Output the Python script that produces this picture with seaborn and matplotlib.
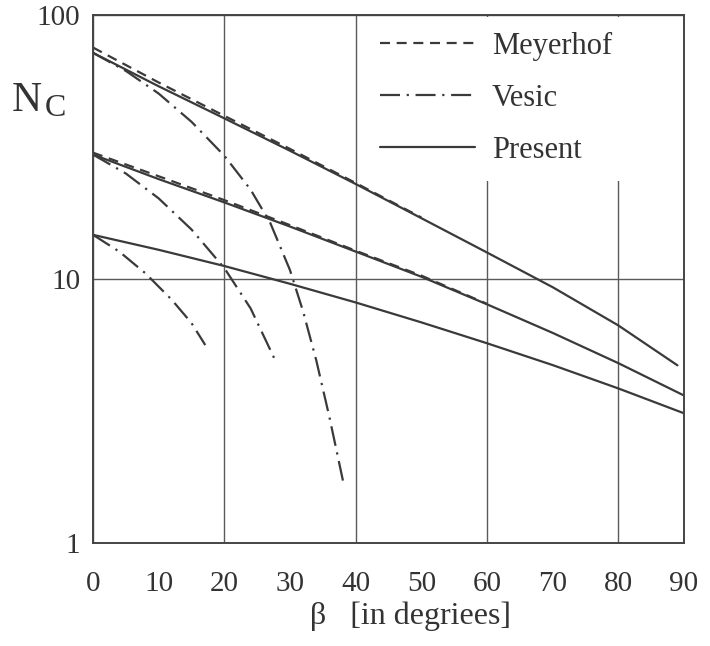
import seaborn as sns
import matplotlib.pyplot as plt
import matplotlib.patches as mpatches
from matplotlib.ticker import FixedLocator, NullLocator, FixedFormatter
import pandas as pd

# Nc versus slope angle beta
beta_present = [0, 10, 20, 30, 40, 50, 60, 70, 80, 90]
beta_present_40 = [0, 10, 20, 30, 40, 50, 60, 70, 80, 89]
present_phi40 = [71.9, 53.7, 40.6, 30.6, 22.9, 17.0, 12.6, 9.31, 6.67, 4.71]
present_phi30 = [29.6, 23.9, 19.5, 15.8, 12.7, 10.2, 8.02, 6.25, 4.80, 3.62]
present_phi20 = [14.7, 12.9, 11.2, 9.59, 8.15, 6.85, 5.71, 4.72, 3.85, 3.10]

beta_meyerhof_40 = [0, 10, 20, 30, 40, 50]
meyerhof_phi40 = [75.3, 55.5, 41.5, 31.1, 23.1, 17.1]
beta_meyerhof_30 = [0, 10, 20, 30, 40, 50, 60]
meyerhof_phi30 = [30.1, 24.5, 19.9, 16.0, 12.8, 10.3, 8.05]

beta_vesic_40 = [0, 5, 10, 15, 20, 24, 27, 30, 32, 34, 36, 38.2]
vesic_phi40 = [71.9, 61.4, 50.4, 39.4, 29.3, 21.8, 16.3, 10.8, 7.53, 4.92, 3.00, 1.66]
beta_vesic_30 = [0, 5, 10, 15, 20, 24, 27.7]
vesic_phi30 = [29.6, 25.1, 20.2, 15.4, 11.0, 7.74, 4.95]
beta_vesic_20 = [0, 4, 8, 12, 15, 17.1]
vesic_phi20 = [14.7, 12.7, 10.5, 8.34, 6.81, 5.62]

methods = ["Meyerhof", "Vesic", "Present"]

# long table for seaborn
curvas = [
    ("Meyerhof", 40, beta_meyerhof_40, meyerhof_phi40),
    ("Meyerhof", 30, beta_meyerhof_30, meyerhof_phi30),
    ("Vesic", 40, beta_vesic_40, vesic_phi40),
    ("Vesic", 30, beta_vesic_30, vesic_phi30),
    ("Vesic", 20, beta_vesic_20, vesic_phi20),
    ("Present", 40, beta_present_40, present_phi40),
    ("Present", 30, beta_present, present_phi30),
    ("Present", 20, beta_present, present_phi20),
]
linhas = []
for metodo, phi, bs, ns in curvas:
    for b, n in zip(bs, ns):
        linhas.append({"beta": b, "Nc": n, "method": metodo, "curve": f"{metodo}{phi}"})
df = pd.DataFrame(linhas)

sns.set_theme(style="white")
plt.rcParams["font.family"] = ["Liberation Serif", "DejaVu Serif"]

cor_linha = "#3a3a3a"
cor_texto = "#333333"
cor_grade = "#5a5a5a"

fig = plt.figure(figsize=(7.1, 6.46), dpi=100)
ax = fig.add_axes([93 / 710, 1 - 543 / 646, 591 / 710, 528 / 646])

sns.lineplot(data=df, x="beta", y="Nc", style="method", units="curve",
             estimator=None, sort=False, style_order=methods,
             dashes={"Meyerhof": (4.5, 3), "Vesic": (9, 3, 1, 3), "Present": ""},
             color=cor_linha, linewidth=1.6, ax=ax, zorder=3)

ax.set_yscale("log")
ax.set_xlim(0, 90)
ax.set_ylim(1, 100)

# ticks and grid
ax.xaxis.set_major_locator(FixedLocator([0, 20, 40, 60, 80]))
ax.xaxis.set_minor_locator(FixedLocator([10, 30, 50, 70, 90]))
ax.xaxis.set_minor_formatter(FixedFormatter(["10", "30", "50", "70", "90"]))
ax.yaxis.set_major_locator(FixedLocator([1, 10, 100]))
ax.yaxis.set_major_formatter(FixedFormatter(["1", "10", "100"]))
ax.yaxis.set_minor_locator(NullLocator())
ax.tick_params(axis="x", which="both", direction="inout", length=11, pad=14.5,
               labelsize=21, colors=cor_texto)
ax.tick_params(axis="x", which="major", width=0)
ax.tick_params(axis="x", which="minor", width=1.2, color=cor_grade)
ax.tick_params(axis="y", which="both", length=0, pad=9, labelsize=21, colors=cor_texto)
ax.grid(True, which="major", color=cor_grade, linewidth=1.0)
ax.grid(False, which="minor")

for s in ax.spines.values():
    s.set_visible(True)
    s.set_color("#444444")
    s.set_linewidth(1.4)
    s.set_zorder(5)

# white area behind the legend
ax.add_patch(mpatches.Rectangle((0.472, 0.686), 0.526, 0.31, transform=ax.transAxes,
                                facecolor="white", edgecolor="none", zorder=1.8))

leg = ax.legend(loc="upper left", bbox_to_anchor=(0.486, 0.968), frameon=False,
                fontsize=22, handlelength=3.1, handletextpad=0.55, labelspacing=0.75,
                borderpad=0, borderaxespad=0)
for t in leg.get_texts():
    t.set_color(cor_texto)
for l in leg.get_lines():
    l.set_color(cor_linha)
    l.set_linewidth(1.6)

ax.set_xlabel("β   [in degriees]", fontsize=23, color=cor_texto)
ax.xaxis.set_label_coords((411 - 93) / 591, -0.139)
ax.xaxis.label.set_va("center")
ax.set_ylabel("")

fig.text(12 / 710, 1 - 101 / 646, "N", fontsize=30, color=cor_texto, va="center", ha="left")
fig.text(45 / 710, 1 - 109 / 646, "C", fontsize=23, color=cor_texto, va="center", ha="left")

plt.savefig("out.png", dpi=100)
